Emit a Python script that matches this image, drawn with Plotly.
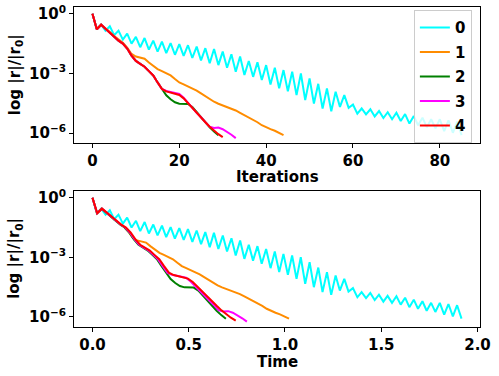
import plotly.graph_objects as go
from plotly.subplots import make_subplots

labels = ["0", "1", "2", "3", "4"]
colors = ["#00FFFF", "#FF8C00", "#008000", "#FF00FF", "#FF0000"]

# log10 of relative residual, one entry per iteration
log_res_0 = [0, -0.78, -0.55, -0.85, -0.63, -1.08, -0.85, -1.3, -1.0, -1.5,
             -1.16, -1.68, -1.22, -1.8, -1.35, -1.9, -1.4, -1.98, -1.48, -2.06,
             -1.53, -2.12, -1.58, -2.22, -1.65, -2.34, -1.73, -2.49, -1.77, -2.58,
             -1.9, -2.71, -2.04, -2.91, -2.15, -3.08, -2.37, -3.17, -2.44, -3.33,
             -2.58, -3.55, -2.71, -3.75, -2.83, -3.89, -2.91, -4.09, -3.0, -4.34,
             -3.25, -4.51, -3.52, -4.76, -3.75, -4.9, -3.92, -4.68, -4.09, -4.73,
             -4.56, -5.02, -4.76, -5.06, -4.8, -5.16, -4.89, -5.24, -4.95, -5.3,
             -4.97, -5.39, -5.04, -5.52, -5.14, -5.6, -5.22, -5.7, -5.3, -5.76,
             -5.3, -5.9, -5.36, -5.98, -5.42, -6.1]
log_res_1 = [0, -0.78, -0.55, -0.72, -0.92, -1.12, -1.3, -1.45, -1.7, -2.02,
             -2.15, -2.2, -2.26, -2.45, -2.62, -2.78, -2.88, -3.0, -3.1, -3.28,
             -3.45, -3.55, -3.65, -3.74, -3.86, -4.0, -4.15, -4.3, -4.42, -4.52,
             -4.6, -4.68, -4.76, -4.86, -4.98, -5.1, -5.19, -5.3, -5.45, -5.6,
             -5.72, -5.8, -5.88, -5.98, -6.1]
log_res_2 = [0, -0.78, -0.55, -0.76, -0.97, -1.15, -1.35, -1.5, -1.75, -2.1,
             -2.37, -2.52, -2.66, -2.88, -3.1, -3.45, -3.8, -4.1, -4.3, -4.45,
             -4.52, -4.52, -4.53, -4.68, -4.95, -5.2, -5.45, -5.7, -5.92, -6.1]
log_res_3 = [0, -0.78, -0.55, -0.76, -0.97, -1.15, -1.35, -1.5, -1.75, -2.1,
             -2.37, -2.52, -2.66, -2.88, -3.1, -3.45, -3.78, -3.88, -3.92, -3.96,
             -4.03, -4.22, -4.48, -4.73, -4.98, -5.2, -5.43, -5.68, -5.74, -5.72,
             -5.8, -5.92, -6.08, -6.25]
log_res_4 = [0, -0.78, -0.55, -0.76, -0.97, -1.15, -1.35, -1.5, -1.75, -2.1,
             -2.37, -2.52, -2.66, -2.88, -3.1, -3.45, -3.78, -3.9, -3.95, -4.02,
             -4.08, -4.25, -4.5, -4.75, -5.0, -5.22, -5.45, -5.68, -5.88, -6.05,
             -6.2]

# wall time at each iteration
time_0 = [0, 0.023, 0.045, 0.068, 0.090, 0.113, 0.135, 0.158, 0.180, 0.203,
          0.226, 0.248, 0.271, 0.293, 0.316, 0.338, 0.361, 0.383, 0.406, 0.428,
          0.451, 0.474, 0.496, 0.519, 0.541, 0.564, 0.586, 0.609, 0.631, 0.654,
          0.677, 0.699, 0.722, 0.744, 0.767, 0.789, 0.812, 0.834, 0.857, 0.879,
          0.902, 0.925, 0.947, 0.970, 0.992, 1.015, 1.037, 1.060, 1.082, 1.105,
          1.128, 1.150, 1.173, 1.195, 1.218, 1.240, 1.263, 1.285, 1.308, 1.330,
          1.353, 1.376, 1.398, 1.421, 1.443, 1.466, 1.488, 1.511, 1.533, 1.556,
          1.579, 1.601, 1.624, 1.646, 1.669, 1.691, 1.714, 1.736, 1.759, 1.781,
          1.804, 1.827, 1.849, 1.872, 1.894, 1.917]
time_1 = [0, 0.023, 0.046, 0.070, 0.093, 0.116, 0.139, 0.162, 0.186, 0.209,
          0.232, 0.255, 0.278, 0.302, 0.325, 0.348, 0.371, 0.394, 0.418, 0.441,
          0.464, 0.487, 0.510, 0.534, 0.557, 0.580, 0.603, 0.626, 0.650, 0.673,
          0.696, 0.719, 0.742, 0.766, 0.789, 0.812, 0.835, 0.858, 0.882, 0.905,
          0.928, 0.951, 0.974, 0.998, 1.021]
time_2 = [0, 0.024, 0.048, 0.072, 0.096, 0.120, 0.143, 0.167, 0.191, 0.215,
          0.239, 0.263, 0.287, 0.311, 0.335, 0.359, 0.382, 0.406, 0.430, 0.454,
          0.478, 0.502, 0.526, 0.550, 0.574, 0.598, 0.621, 0.645, 0.669, 0.693]
time_3 = [0, 0.024, 0.049, 0.073, 0.097, 0.122, 0.146, 0.170, 0.194, 0.219,
          0.243, 0.267, 0.292, 0.316, 0.340, 0.365, 0.389, 0.413, 0.437, 0.462,
          0.486, 0.510, 0.535, 0.559, 0.583, 0.608, 0.632, 0.656, 0.680, 0.705,
          0.729, 0.753, 0.778, 0.802]
time_4 = [0, 0.025, 0.050, 0.074, 0.099, 0.124, 0.149, 0.174, 0.198, 0.223,
          0.248, 0.273, 0.298, 0.322, 0.347, 0.372, 0.397, 0.422, 0.446, 0.471,
          0.496, 0.521, 0.546, 0.570, 0.595, 0.620, 0.645, 0.670, 0.694, 0.719,
          0.744]

log_res = [log_res_0, log_res_1, log_res_2, log_res_3, log_res_4]
times = [time_0, time_1, time_2, time_3, time_4]

y_tickvals = [1, 1e-3, 1e-6]
y_ticktext = ["10<sup>0</sup>", "10<sup>\u22123</sup>", "10<sup>\u22126</sup>"]
x1_tickvals = [0, 20, 40, 60, 80]
x2_tickvals = [0, 0.5, 1.0, 1.5, 2.0]
x2_ticktext = ["0.0", "0.5", "1.0", "1.5", "2.0"]

FONT = "DejaVu Sans"

fig = make_subplots(rows=2, cols=1)

for k in range(5):
    res = [10 ** v for v in log_res[k]]
    fig.add_trace(go.Scatter(
        x=list(range(len(res))), y=res, mode="lines", name=labels[k],
        legendgroup=labels[k],
        line=dict(color=colors[k], width=2),
    ), row=1, col=1)
    fig.add_trace(go.Scatter(
        x=times[k], y=res, mode="lines", name=labels[k], showlegend=False,
        legendgroup=labels[k],
        line=dict(color=colors[k], width=2),
    ), row=2, col=1)

axis_style = dict(
    showline=True, mirror=True, linecolor="black", linewidth=1,
    ticks="outside", ticklen=4, tickwidth=1, tickcolor="black",
    showgrid=False, zeroline=False, automargin=False,
    tickfont=dict(family=FONT, size=15, color="black", weight="bold"),
)

fig.update_xaxes(**axis_style)
fig.update_yaxes(**axis_style)

title_font = dict(family=FONT, size=15, color="black")
ytitle = "<b>log |r|/|r<sub>0</sub>|</b>"
annotations = [
    dict(text="<b>Iterations</b>", x=0.5, y=0.469, xref="paper", yref="paper",
         showarrow=False, font=title_font, xanchor="center", yanchor="middle"),
    dict(text="<b>Time</b>", x=0.5, y=-0.109, xref="paper", yref="paper",
         showarrow=False, font=title_font, xanchor="center", yanchor="middle"),
    dict(text=ytitle, x=-0.145, y=0.7875, xref="paper", yref="paper",
         showarrow=False, font=title_font, textangle=-90,
         xanchor="center", yanchor="middle"),
    dict(text=ytitle, x=-0.145, y=0.2134, xref="paper", yref="paper",
         showarrow=False, font=title_font, textangle=-90,
         xanchor="center", yanchor="middle"),
]

fig.update_layout(
    width=499, height=376,
    margin=dict(l=74, r=19, t=7, b=49),
    plot_bgcolor="white", paper_bgcolor="white",
    font=dict(family=FONT, size=15, color="black"),
    xaxis=dict(domain=[0, 1], range=[-4.25, 89.25], tickvals=x1_tickvals),
    xaxis2=dict(domain=[0, 1], range=[-0.096, 2.013], tickvals=x2_tickvals,
                ticktext=x2_ticktext),
    yaxis=dict(domain=[0.574, 1.0], type="log", range=[-6.51, 0.34],
               tickvals=y_tickvals, ticktext=y_ticktext),
    yaxis2=dict(domain=[0, 0.426], type="log", range=[-6.52, 0.36],
                tickvals=y_tickvals, ticktext=y_ticktext),
    annotations=annotations,
    legend=dict(
        x=0.98, y=0.99, xanchor="right", yanchor="top",
        bgcolor="rgba(255,255,255,0.8)", bordercolor="#cccccc", borderwidth=1,
        font=dict(family=FONT, size=15, color="black", weight="bold"),
        itemwidth=30, tracegroupgap=2,
    ),
)

# drop the browser's default page margin so the figure sits at the corner
fig.write_html("out.html", config={"displayModeBar": False},
               post_script="document.body.style.margin = '0';")
